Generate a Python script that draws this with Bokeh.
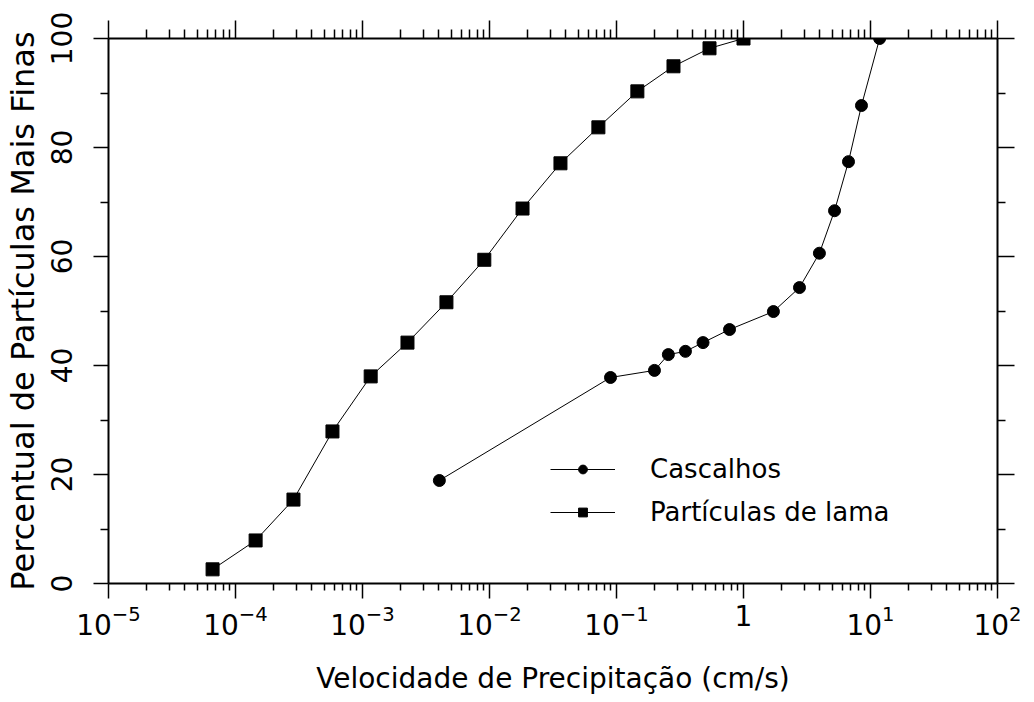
from bokeh.plotting import figure
from bokeh.models import (LogAxis, LinearAxis, FixedTicker, Legend, LegendItem,
                          Range1d)
from bokeh.embed import file_html
from bokeh.resources import INLINE

# ---- data ----
lama_x = [6.6e-5, 1.44e-4, 2.86e-4, 5.8e-4, 1.16e-3, 2.26e-3, 4.58e-3, 9.1e-3,
          1.82e-2, 3.62e-2, 7.2e-2, 0.146, 0.281, 0.54, 1.0]
lama_y = [2.6, 7.9, 15.4, 27.9, 38.0, 44.2, 51.6, 59.4, 68.8, 77.1, 83.7, 90.3,
          94.9, 98.2, 100.0]
casc_x = [4.03e-3, 8.97e-2, 0.199, 0.256, 0.349, 0.48, 0.776, 1.72, 2.76, 3.96,
          5.21, 6.71, 8.49, 11.8]
casc_y = [18.9, 37.8, 39.1, 42.0, 42.6, 44.2, 46.6, 49.9, 54.3, 60.6, 68.4, 77.4,
          87.7, 100.0]
x_major = [1e-5, 1e-4, 1e-3, 1e-2, 1e-1, 1, 10, 100]
x_labels = {1: "1"}
y_major = [0, 20, 40, 60, 80, 100]
x_title = "Velocidade de Precipitação (cm/s)"
y_title = "Percentual de Partículas Mais Finas"
series_names = ["Cascalhos", "Partículas de lama"]

x_minor = [m * 10.0 ** e for e in range(-5, 2) for m in range(2, 10)]

FONT = "DejaVu Sans"

p = figure(width=1034, height=702, x_axis_type="log",
           x_range=Range1d(1e-5, 1e2), y_range=Range1d(0, 100),
           output_backend="svg", toolbar_location=None,
           min_border_left=108, min_border_right=37,
           min_border_top=38, min_border_bottom=119)
p.outline_line_color = None
p.grid.visible = False
p.background_fill_color = "white"
p.border_fill_color = "white"

xt = FixedTicker(ticks=x_major, minor_ticks=x_minor)
yt = FixedTicker(ticks=y_major, minor_ticks=[10, 30, 50, 70, 90])


def style(ax, major_out, minor_out):
    ax.axis_line_width = 2
    ax.axis_line_color = "black"
    ax.major_tick_line_width = 1.5
    ax.minor_tick_line_width = 1.5
    ax.major_tick_line_color = "black"
    ax.minor_tick_line_color = "black"
    ax.major_tick_in = 0
    ax.minor_tick_in = 0
    ax.major_tick_out = major_out
    ax.minor_tick_out = minor_out
    ax.major_label_text_font = FONT
    ax.major_label_text_color = "black"
    ax.axis_label_text_font = FONT
    ax.axis_label_text_font_style = "normal"
    ax.axis_label_text_color = "black"


bx = p.xaxis[0]
bx.ticker = xt
style(bx, 15, 7)
bx.major_label_overrides = x_labels
bx.major_label_text_font_size = "28px"
bx.major_label_standoff = 6
bx.axis_label = x_title
bx.axis_label_text_font_size = "28px"
bx.axis_label_standoff = 24

ly = p.yaxis[0]
ly.ticker = yt
style(ly, 15, 8)
ly.major_label_orientation = "vertical"
ly.major_label_text_font_size = "28px"
ly.major_label_standoff = 22
ly.axis_label = y_title
ly.axis_label_text_font_size = "32px"
ly.axis_label_standoff = 6

top = LogAxis(ticker=xt)
style(top, 18, 9)
top.major_label_text_font_size = "2px"
top.major_label_text_alpha = 0
top.major_label_standoff = 0
p.add_layout(top, "above")

right = LinearAxis(ticker=yt)
style(right, 17, 8)
right.major_label_text_font_size = "2px"
right.major_label_text_alpha = 0
right.major_label_standoff = 0
p.add_layout(right, "right")

l1 = p.line(casc_x, casc_y, line_color="black", line_width=1)
m1 = p.scatter(casc_x, casc_y, marker="circle", size=12, fill_color="black",
               line_color="black")
l2 = p.line(lama_x, lama_y, line_color="black", line_width=1)
m2 = p.scatter(lama_x, lama_y, marker="square", size=13, fill_color="black",
               line_color="black")

legend = Legend(items=[LegendItem(label=series_names[0], renderers=[l1, m1]),
                       LegendItem(label=series_names[1], renderers=[l2, m2])],
                location=(442, 56))
legend.glyph_width = 65
legend.glyph_height = 22
legend.label_standoff = 35
legend.spacing = 13
legend.padding = 0
legend.margin = 0
legend.border_line_color = None
legend.background_fill_alpha = 0
legend.label_text_font = FONT
legend.label_text_font_size = "26px"
legend.label_text_color = "black"
legend.label_height = 22
p.add_layout(legend, "center")

open("out.html", "w").write(file_html(p, INLINE))
